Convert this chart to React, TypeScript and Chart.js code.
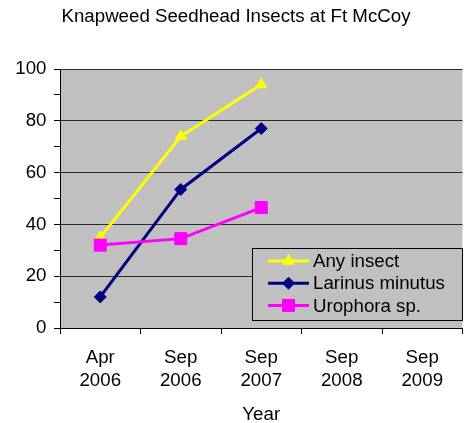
import React, { useEffect, useRef } from 'react';
import { Chart, registerables } from 'chart.js';

Chart.register(...registerables);

const categories: string[][] = [
  ['Apr', '2006'],
  ['Sep', '2006'],
  ['Sep', '2007'],
  ['Sep', '2008'],
  ['Sep', '2009'],
];
const anyInsect: (number | null)[] = [35, 74, 94, null, null];
const larinusMinutus: (number | null)[] = [12, 53.5, 77, null, null];
const urophora: (number | null)[] = [32, 34.5, 46.5, null, null];
const seriesNames = ['Any insect', 'Larinus minutus', 'Urophora sp.'];
const yTickValues = [0, 10, 20, 30, 40, 50, 60, 70, 80, 90, 100];
const yLabelValues = [0, 20, 40, 60, 80, 100];

const FONT = "'Liberation Sans', Arial, sans-serif";
const FS = 18.7;

function drawMarker(ctx: CanvasRenderingContext2D, style: string, x: number, y: number, r: number, color: string) {
  ctx.save();
  ctx.fillStyle = color;
  ctx.strokeStyle = color;
  ctx.lineWidth = 1;
  ctx.beginPath();
  if (style === 'triangle') {
    let rad = 0;
    const step = (2 * Math.PI) / 3;
    ctx.moveTo(x + Math.sin(rad) * r, y - Math.cos(rad) * r);
    rad += step;
    ctx.lineTo(x + Math.sin(rad) * r, y - Math.cos(rad) * r);
    rad += step;
    ctx.lineTo(x + Math.sin(rad) * r, y - Math.cos(rad) * r);
    ctx.closePath();
  } else if (style === 'rectRot') {
    ctx.moveTo(x, y - r);
    ctx.lineTo(x + r, y);
    ctx.lineTo(x, y + r);
    ctx.lineTo(x - r, y);
    ctx.closePath();
  } else {
    const s = Math.SQRT1_2 * r;
    ctx.rect(x - s, y - s, 2 * s, 2 * s);
  }
  ctx.fill();
  ctx.stroke();
  ctx.restore();
}

const plotBg = {
  id: 'plotBg',
  beforeDraw(chart: any) {
    const { ctx, chartArea: a } = chart;
    ctx.save();
    ctx.fillStyle = '#C0C0C0';
    ctx.fillRect(a.left, a.top, a.right - a.left, a.bottom - a.top);
    ctx.restore();
  },
};

const boxLegend = {
  id: 'boxLegend',
  afterDraw(chart: any) {
    const ctx: CanvasRenderingContext2D = chart.ctx;
    const x0 = 252, y0 = 248, w = 210, h = 72;
    ctx.save();
    ctx.fillStyle = '#C0C0C0';
    ctx.fillRect(x0, y0, w, h);
    ctx.strokeStyle = '#000';
    ctx.lineWidth = 1;
    ctx.strokeRect(x0 + 0.5, y0 + 0.5, w, h);
    chart.data.datasets.forEach((ds: any, i: number) => {
      const y = 261 + i * 22.2;
      ctx.strokeStyle = ds.borderColor;
      ctx.lineWidth = 3;
      ctx.beginPath();
      ctx.moveTo(268, y);
      ctx.lineTo(309, y);
      ctx.stroke();
      drawMarker(ctx, ds.pointStyle, 288.5, y, ds.pointRadius, ds.borderColor);
      ctx.fillStyle = '#000';
      ctx.font = `${FS}px ${FONT}`;
      ctx.textBaseline = 'middle';
      ctx.textAlign = 'left';
      ctx.fillText(ds.label, 313, y + 1);
    });
    ctx.restore();
  },
};

export default function App() {
  const ref = useRef<HTMLCanvasElement>(null);
  useEffect(() => {
    if (!ref.current) return;
    const chart = new Chart(ref.current, {
      type: 'line',
      data: {
        labels: categories,
        datasets: [
          {
            label: seriesNames[0],
            data: anyInsect,
            borderColor: '#FFFF00',
            backgroundColor: '#FFFF00',
            borderWidth: 3,
            pointStyle: 'triangle',
            pointRadius: 6.5,
            pointBorderWidth: 1,
            order: 3,
          },
          {
            label: seriesNames[1],
            data: larinusMinutus,
            borderColor: '#000080',
            backgroundColor: '#000080',
            borderWidth: 3,
            pointStyle: 'rectRot',
            pointRadius: 6,
            pointBorderWidth: 1,
            order: 2,
          },
          {
            label: seriesNames[2],
            data: urophora,
            borderColor: '#FF00FF',
            backgroundColor: '#FF00FF',
            borderWidth: 3,
            pointStyle: 'rect',
            pointRadius: 8.5,
            pointBorderWidth: 1,
            order: 1,
          },
        ] as any,
      },
      options: {
        responsive: false,
        animation: false,
        events: [],
        layout: { padding: 0 },
        plugins: {
          legend: { display: false },
          tooltip: { enabled: false },
          title: {
            display: true,
            text: 'Knapweed Seedhead Insects at Ft McCoy',
            color: '#000',
            font: { family: FONT, size: FS, weight: 'normal', lineHeight: 1.2 },
            padding: { top: 5.5, bottom: 41.06 },
          },
        },
        scales: {
          x: {
            type: 'category',
            offset: true,
            grid: {
              offset: true,
              drawOnChartArea: false,
              drawTicks: true,
              tickLength: 6,
              tickColor: '#000',
            },
            border: { color: '#000', width: 1 },
            ticks: {
              color: '#000',
              font: { family: FONT, size: FS, lineHeight: 1.24 },
              padding: 12.5,
              maxRotation: 0,
              autoSkip: false,
            },
            title: {
              display: true,
              text: 'Year',
              color: '#000',
              font: { family: FONT, size: FS, lineHeight: 0.85 },
              padding: { top: 0, bottom: 0 },
            },
            afterFit(scale: any) {
              scale.height = 95;
            },
          },
          y: {
            min: 0,
            max: 100,
            afterBuildTicks(scale: any) {
              scale.ticks = yTickValues.map((v) => ({ value: v }));
            },
            grid: {
              color: (c: any) => (yLabelValues.includes(c.tick?.value) ? '#2a2a2a' : 'rgba(0,0,0,0)'),
              tickColor: '#000',
              tickLength: 6,
              lineWidth: 1,
            },
            border: { color: '#000', width: 1 },
            ticks: {
              color: '#000',
              font: { family: FONT, size: FS },
              padding: 7.5,
              callback: (v: any) => (yLabelValues.includes(Number(v)) ? String(v) : ''),
            },
            afterFit(scale: any) {
              scale.width = 60;
            },
          },
        },
      },
      plugins: [plotBg, boxLegend],
    });
    return () => chart.destroy();
  }, []);
  return (
    <div style={{ position: 'fixed', left: 0, top: 0, width: 472, height: 423, background: '#fff' }}>
      <canvas ref={ref} width={472} height={423} style={{ display: 'block' }} />
    </div>
  );
}
